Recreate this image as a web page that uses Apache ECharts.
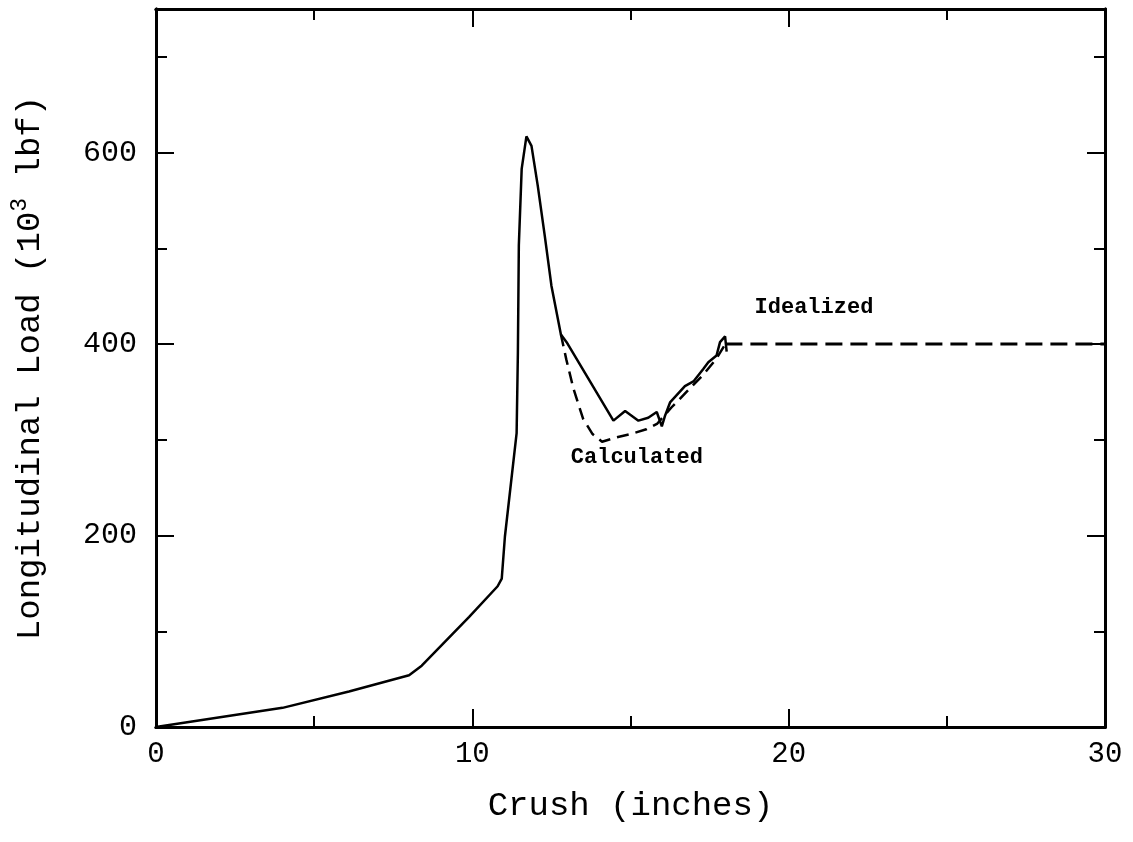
<!DOCTYPE html>
<html>
<head>
<meta charset="utf-8">
<script src="https://cdn.jsdelivr.net/npm/echarts@6/dist/echarts.min.js"></script>
<style>
  html, body { margin: 0; padding: 0; background: #fff; }
  #chart { width: 1133px; height: 842px; }
</style>
</head>
<body>
<div id="chart"></div>
<script>
// measured (solid) load curve, [crush in, load 10^3 lbf]
const measured = [
    [0, 0], [1.4, 7], [4.0, 20], [6.1, 37], [8.0, 54], [8.4, 64], [9.9, 115],
    [10.8, 147], [10.93, 155], [11.03, 199], [11.4, 307], [11.44, 391],
    [11.47, 503], [11.56, 583], [11.71, 617], [11.87, 607], [12.07, 565],
    [12.29, 513], [12.5, 461], [12.8, 410], [12.98, 402], [14.46, 320],
    [14.83, 330], [15.25, 320], [15.56, 323], [15.83, 329], [15.99, 314],
    [16.09, 325], [16.25, 339], [16.72, 356], [16.99, 361], [17.3, 374],
    [17.46, 381], [17.72, 388], [17.83, 402], [17.99, 408], [18.04, 392]
];

// calculated (dashed) curve
const calculated = [
    [12.8, 410], [12.97, 384], [13.2, 353], [13.5, 322], [13.8, 306],
    [14.1, 298], [14.5, 302], [15.0, 306], [15.5, 311], [15.85, 317],
    [16.3, 334], [16.8, 351], [17.3, 368], [17.7, 384], [18.0, 400]
];

// idealized plateau
const idealized = [[18.0, 400], [30, 400]];

// curve captions
const captions = [
    { name: 'Idealized', value: [20.8, 438] },
    { name: 'Calculated', value: [15.2, 282] }
];

const xTicks = [0, 10, 20, 30];
const yTicks = [0, 200, 400, 600];

const FONT = '"Liberation Mono", "DejaVu Sans Mono", monospace';
const INK = '#000';

const chart = echarts.init(document.getElementById('chart'));

// one axis: minor or major tick set, mirrored on top/right
function xAx(pos, step, len, labels) {
    return {
        type: 'value', position: pos, min: 0, max: 30, interval: step,
        axisLine: { show: true, onZero: false, lineStyle: { color: INK, width: 3 } },
        axisTick: { show: true, inside: true, length: len, lineStyle: { color: INK, width: 2 } },
        axisLabel: {
            show: labels, margin: 13, color: INK, fontFamily: FONT, fontSize: 29,
            formatter: v => xTicks.includes(v) ? String(v) : ''
        },
        splitLine: { show: false }
    };
}

function yAx(pos, step, len, labels) {
    return {
        type: 'value', position: pos, min: 0, max: 750, interval: step,
        axisLine: { show: true, onZero: false, lineStyle: { color: INK, width: 3 } },
        axisTick: { show: true, inside: true, length: len, lineStyle: { color: INK, width: 2 } },
        axisLabel: {
            show: labels, margin: 19, color: INK, fontFamily: FONT, fontSize: 30,
            formatter: v => yTicks.includes(v) ? String(v) : ''
        },
        splitLine: { show: false }
    };
}

const xBottom = xAx('bottom', 5, 11, true);
xBottom.name = 'Crush (inches)';
xBottom.nameLocation = 'middle';
xBottom.nameGap = 62;
xBottom.nameTextStyle = { color: INK, fontFamily: FONT, fontSize: 34 };

const yLeft = yAx('left', 100, 11, true);
yLeft.name = '{t|Longitudinal Load (10}{s|3}{t| lbf)}';
yLeft.nameLocation = 'middle';
yLeft.nameRotate = 90;
yLeft.nameGap = 104;
yLeft.nameTextStyle = {
    rich: {
        t: { color: INK, fontFamily: FONT, fontSize: 34, lineHeight: 44 },
        s: { color: INK, fontFamily: FONT, fontSize: 23, lineHeight: 23, verticalAlign: 'top' }
    }
};

const option = {
    backgroundColor: '#fff',
    animation: false,
    grid: { left: 156, right: 28, top: 9, bottom: 115, containLabel: false },
    xAxis: [
        xBottom,
        xAx('bottom', 10, 18, false),
        xAx('top', 5, 11, false),
        xAx('top', 10, 18, false)
    ],
    yAxis: [
        yLeft,
        yAx('left', 200, 18, false),
        yAx('right', 100, 11, false),
        yAx('right', 200, 18, false)
    ],
    series: [
        {
            name: 'Measured', type: 'line', data: measured, symbol: 'none',
            lineStyle: { color: INK, width: 2.5 }, z: 3
        },
        {
            name: 'Calculated', type: 'line', data: calculated, symbol: 'none',
            lineStyle: { color: INK, width: 2.5, type: [12, 7] }, z: 2
        },
        {
            name: 'Idealized', type: 'line', data: idealized, symbol: 'none',
            lineStyle: { color: INK, width: 3, type: [17, 8] }, z: 2
        },
        {
            name: 'captions', type: 'scatter', data: captions, symbolSize: 0,
            itemStyle: { color: INK, opacity: 1 },
            label: {
                show: true, position: 'inside', formatter: p => p.name, opacity: 1,
                color: '#000', textBorderWidth: 0, fontFamily: FONT, fontSize: 22, fontWeight: 'bold'
            },
            emphasis: { disabled: true },
            silent: true
        }
    ]
};

chart.setOption(option);
</script>
</body>
</html>
